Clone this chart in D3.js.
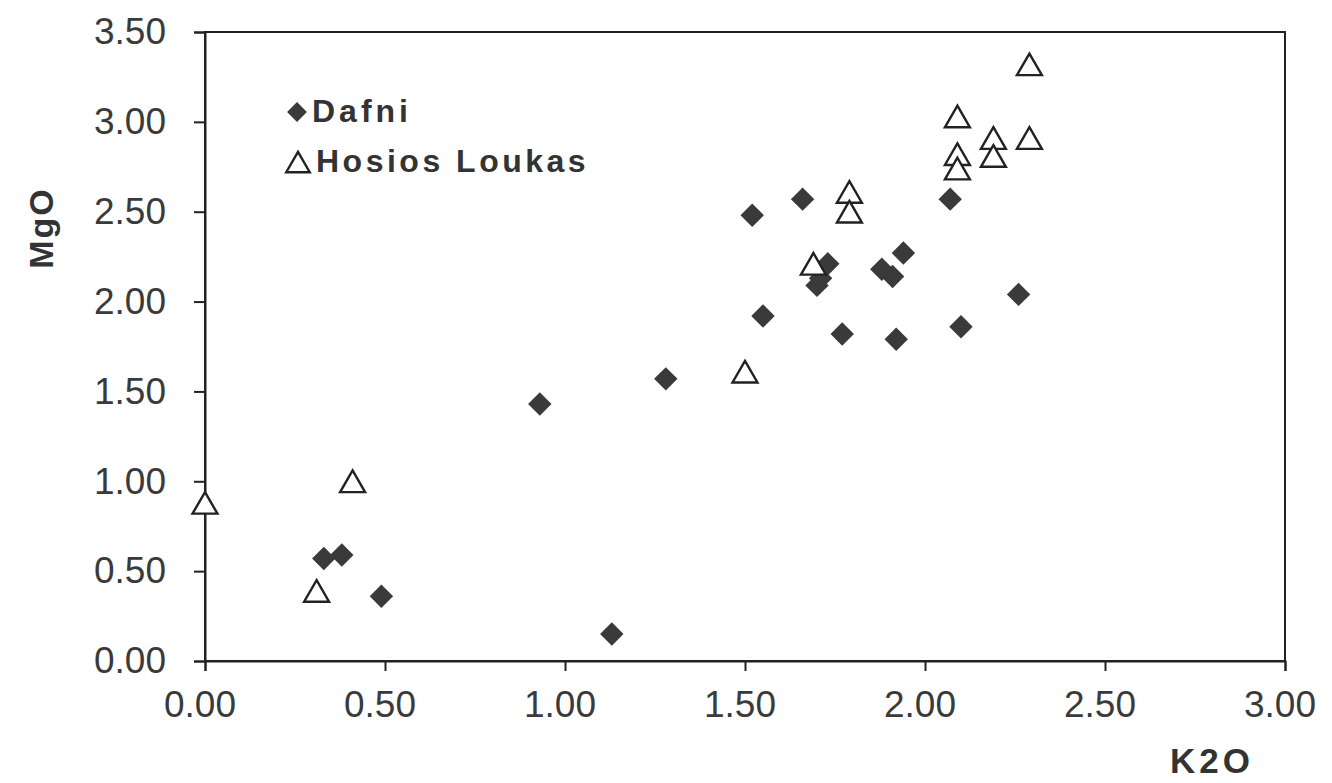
<!DOCTYPE html>
<html lang="en">
<head>
    <meta charset="UTF-8">
    <title>MgO vs K2O</title>
    <script src="https://d3js.org/d3.v7.min.js"></script>
    <style>
        body { margin: 0; background: #fff; }
        .tick text { font-family: "Liberation Sans", Arial, sans-serif; font-size: 37px; fill: #3a3a3a; }
        .lbl { font-family: "Liberation Sans", Arial, sans-serif; font-weight: bold; fill: #333; }
    </style>
</head>
<body>
<svg id="chart" width="1332" height="783"></svg>
<script>
    // Dafni (filled diamonds)
    const dafniK2O = [0.33, 0.38, 0.49, 0.93, 1.13, 1.28, 1.52, 1.55, 1.66, 1.70, 1.71, 1.73, 1.77, 1.88, 1.91, 1.94, 1.92, 2.07, 2.10, 2.26];
    const dafniMgO = [0.57, 0.59, 0.36, 1.43, 0.15, 1.57, 2.48, 1.92, 2.57, 2.09, 2.13, 2.21, 1.82, 2.18, 2.14, 2.27, 1.79, 2.57, 1.86, 2.04];
    // Hosios Loukas (open triangles)
    const hosiosK2O = [0.00, 0.31, 0.41, 1.50, 1.69, 1.79, 1.79, 2.09, 2.09, 2.09, 2.19, 2.19, 2.29, 2.29];
    const hosiosMgO = [0.88, 0.39, 1.00, 1.61, 2.21, 2.61, 2.50, 3.03, 2.82, 2.74, 2.91, 2.81, 3.32, 2.91];
    const xTicks = [0, 0.5, 1, 1.5, 2, 2.5, 3];
    const yTicks = [0, 0.5, 1, 1.5, 2, 2.5, 3, 3.5];

    const svg = d3.select("#chart");
    const plotL = 205, plotR = 1285, plotT = 32, plotB = 661;

    const x = d3.scaleLinear().domain([0, 3]).range([plotL, plotR]);
    const y = d3.scaleLinear().domain([0, 3.5]).range([plotB, plotT]);

    // frame
    svg.append("rect")
        .attr("x", plotL).attr("y", plotT)
        .attr("width", plotR - plotL).attr("height", plotB - plotT)
        .attr("fill", "none").attr("stroke", "#222").attr("stroke-width", 2);

    const xAxis = svg.append("g")
        .attr("transform", `translate(0,${plotB})`)
        .call(d3.axisBottom(x).tickValues(xTicks).tickFormat(d3.format(".2f")).tickSize(10).tickPadding(20));
    const yAxis = svg.append("g")
        .attr("transform", `translate(${plotL},0)`)
        .call(d3.axisLeft(y).tickValues(yTicks).tickFormat(d3.format(".2f")).tickSize(11).tickPadding(28));
    [xAxis, yAxis].forEach(a => {
        a.select(".domain").attr("stroke", "#222").attr("stroke-width", 2);
        a.selectAll(".tick line").attr("stroke", "#222").attr("stroke-width", 2);
    });
    xAxis.selectAll(".tick text").attr("dx", "-0.15em");

    // triangle centred on its bounding box, like the spreadsheet marker
    const boxTriangle = {
        draw(ctx, size) {
            const s = Math.sqrt(size * 4 / Math.sqrt(3));
            const h = s * Math.sqrt(3) / 2;
            ctx.moveTo(0, -h / 2);
            ctx.lineTo(s / 2, h / 2);
            ctx.lineTo(-s / 2, h / 2);
            ctx.closePath();
        }
    };

    const diamond = d3.symbol().type(d3.symbolDiamond2).size(350);
    const triangle = d3.symbol().type(boxTriangle).size(270);

    svg.append("g").selectAll("path")
        .data(dafniK2O.map((k, i) => [k, dafniMgO[i]]))
        .enter().append("path")
        .attr("d", diamond)
        .attr("transform", d => `translate(${x(d[0])},${y(d[1])})`)
        .attr("fill", "#3a3a3a");

    svg.append("g").selectAll("path")
        .data(hosiosK2O.map((k, i) => [k, hosiosMgO[i]]))
        .enter().append("path")
        .attr("d", triangle)
        .attr("transform", d => `translate(${x(d[0])},${y(d[1])})`)
        .attr("fill", "#fff").attr("stroke", "#222").attr("stroke-width", 2.4);

    // legend
    svg.append("path").attr("d", d3.symbol().type(d3.symbolDiamond2).size(250))
        .attr("transform", "translate(297,112)").attr("fill", "#3a3a3a");
    svg.append("path").attr("d", d3.symbol().type(boxTriangle).size(240))
        .attr("transform", "translate(298,162)").attr("fill", "#fff").attr("stroke", "#222").attr("stroke-width", 2.4);
    svg.append("text").attr("class", "lbl").attr("x", 312).attr("y", 122)
        .style("font-size", "32px").style("letter-spacing", "4px").text("Dafni");
    svg.append("text").attr("class", "lbl").attr("x", 316).attr("y", 172)
        .style("font-size", "32px").style("letter-spacing", "3.5px").text("Hosios Loukas");

    // axis titles
    svg.append("text").attr("class", "lbl")
        .attr("transform", "translate(53,228) rotate(-90)")
        .attr("text-anchor", "middle").style("font-size", "34px").style("letter-spacing", "2px").text("MgO");
    svg.append("text").attr("class", "lbl")
        .attr("x", 1212).attr("y", 773).attr("text-anchor", "middle")
        .style("font-size", "35px").style("letter-spacing", "4px").text("K2O");
</script>
</body>
</html>
